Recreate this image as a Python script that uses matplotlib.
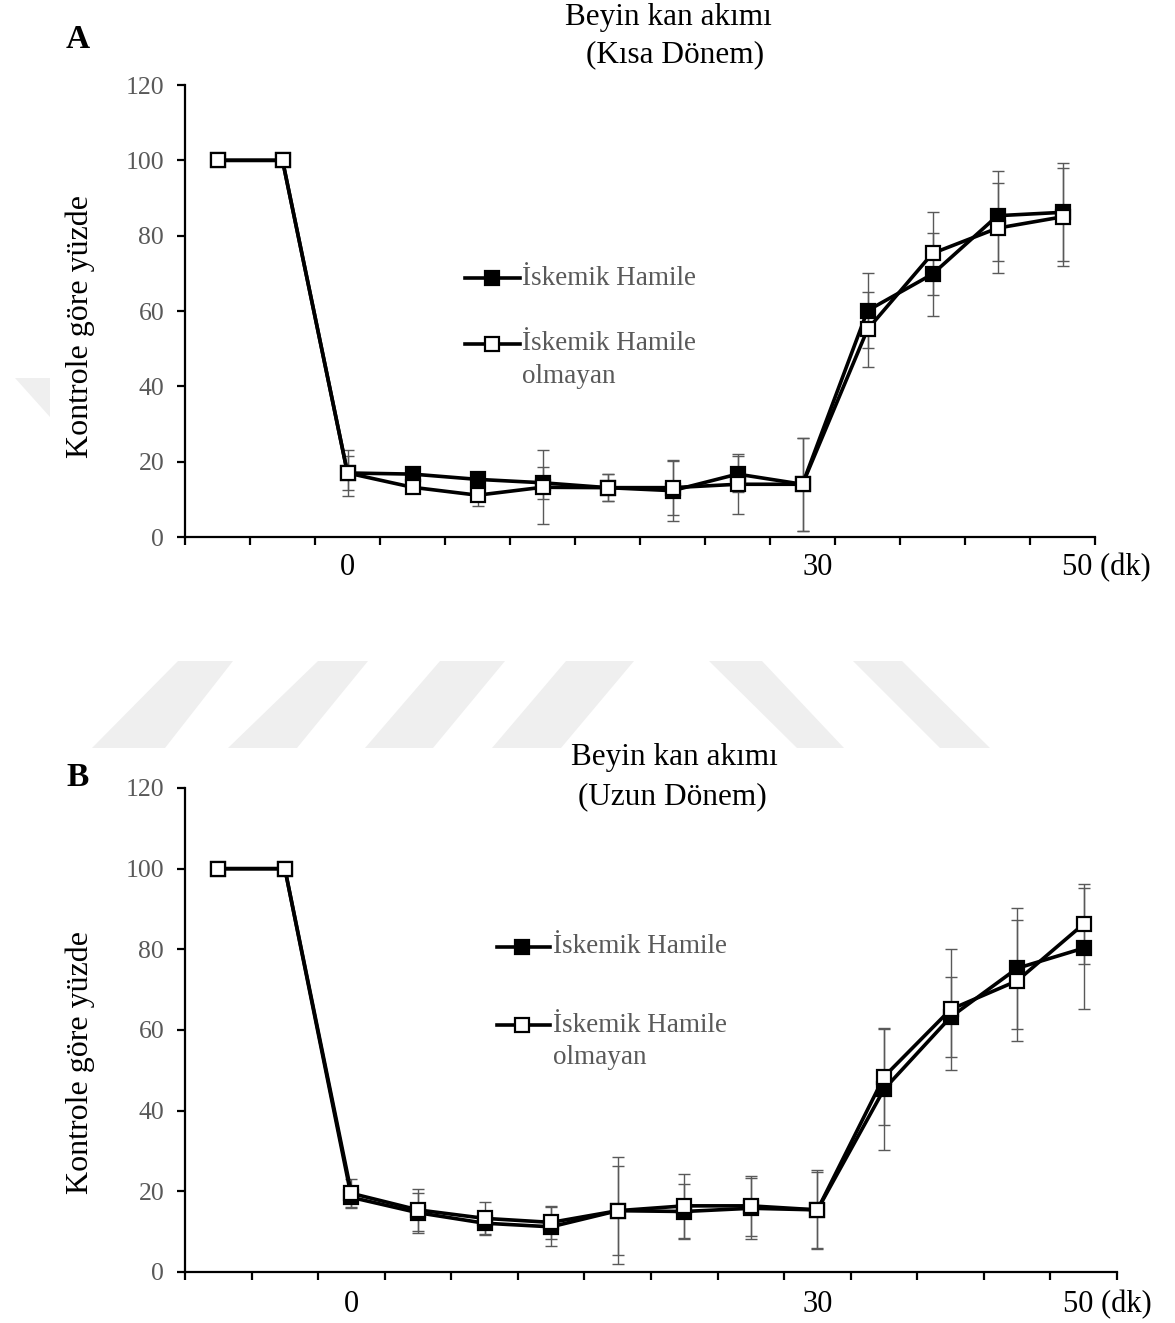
import matplotlib
matplotlib.use("Agg")
import matplotlib.pyplot as plt
from matplotlib.patches import Polygon
import numpy as np

plt.rcParams['font.family'] = ['Liberation Serif', 'DejaVu Serif']

# ---------------- data ----------------
n_points = 14
x_labels = ["0", "30", "50 (dk)"]

# Panel A (Kısa Dönem)
a_hamile = [100, 100, 17, 16.7, 15.3, 14.4, 13.1, 12.3, 16.7, 14.0, 60.1, 69.8, 85.3, 86.2]
a_hamile_err = [0, 0, 6.2, 1.0, 1.0, 4.2, 3.5, 8.0, 4.7, 12.3, 10.0, 11.0, 12.0, 13.0]
a_olmayan = [100, 100, 17, 13.2, 11.1, 13.2, 13.1, 13.1, 14.0, 14.0, 55.1, 75.3, 82.0, 85.0]
a_olmayan_err = [0, 0, 4.6, 1.0, 2.8, 9.8, 3.5, 7.3, 8.0, 12.3, 10.0, 11.0, 12.0, 13.0]

# Panel B (Uzun Dönem)
b_hamile = [100, 100, 18.5, 14.7, 12.1, 11.2, 15.2, 15.0, 15.8, 15.4, 45.3, 63.2, 75.3, 80.3]
b_hamile_err = [0, 0, 2.6, 5.0, 3.0, 4.8, 11.0, 6.7, 7.5, 9.8, 15.0, 10.0, 15.0, 15.0]
b_olmayan = [100, 100, 19.5, 15.4, 13.3, 12.3, 15.2, 16.4, 16.4, 15.4, 48.4, 65.1, 72.2, 86.3]
b_olmayan_err = [0, 0, 3.5, 5.2, 4.0, 4.0, 13.2, 8.0, 7.5, 9.4, 12.0, 15.0, 15.0, 10.0]

legend_labels = ["İskemik Hamile", "İskemik Hamile", "olmayan"]

W, H = 1175, 1323
fig = plt.figure(figsize=(W / 100, H / 100), dpi=100)

def fx(px):
    return px / W

def fy(py):
    return 1 - py / H

# watermark shapes (light grey)
wm = "#efefef"
stripes = [
    [(178, 661), (233, 661), (165, 748), (92, 748)],
    [(318, 661), (368, 661), (297, 748), (228, 748)],
    [(440, 661), (505, 661), (433, 748), (365, 748)],
    [(566, 661), (634, 661), (561, 748), (492, 748)],
    [(709, 661), (762, 661), (844, 748), (797, 748)],
    [(853, 661), (902, 661), (990, 748), (940, 748)],
    [(15, 378), (50, 378), (50, 417)],
]
for poly in stripes:
    fig.patches.append(Polygon([(fx(px), fy(py)) for px, py in poly], closed=True,
                               transform=fig.transFigure, facecolor=wm, edgecolor='none', zorder=0))

grey = "#595959"
fs_tick = 18.5
fs_x = 22


def panel(box, s1, e1, s2, e2, lab_x, lab_y, leg):
    left, top, right, bottom = box
    ax = fig.add_axes([fx(left), fy(bottom), fx(right - left), (bottom - top) / H])
    ax.set_facecolor('none')
    x = np.arange(n_points) + 0.5
    ax.errorbar(x, s1, yerr=e1, fmt='none', ecolor=grey, elinewidth=1.0, capsize=4.5,
                capthick=1.0, zorder=2)
    ax.errorbar(x, s2, yerr=e2, fmt='none', ecolor=grey, elinewidth=1.0, capsize=4.5,
                capthick=1.0, zorder=2)
    ax.plot(x, s1, color='black', lw=2.6, marker='s', ms=10, mfc='black', mec='black',
            mew=1.6, zorder=3)
    ax.plot(x, s2, color='black', lw=2.6, marker='s', ms=10, mfc='white', mec='black',
            mew=1.6, zorder=4)
    ax.set_xlim(0, n_points)
    ax.set_ylim(0, 120)
    ax.set_yticks(np.arange(0, 121, 20))
    ax.set_xticks(np.arange(0, n_points + 1))
    ax.set_xticklabels([])
    for s in ['top', 'right']:
        ax.spines[s].set_visible(False)
    for s in ['left', 'bottom']:
        ax.spines[s].set_linewidth(1.6)
    ax.tick_params(axis='both', direction='out', length=6, width=1.6, color='black')
    ax.tick_params(axis='y', labelsize=fs_tick, labelcolor=grey, pad=9)
    trans = ax.get_xaxis_transform()
    for xv, t in zip(lab_x, x_labels):
        ax.text(xv, lab_y, t, transform=trans, ha='center', va='center', fontsize=fs_x,
                color='black')
    # legend
    lx0, lx1, lxm, ly1, ly2, ly3, tx = leg
    ax.plot([lx0, lxm, lx1], [ly1] * 3, transform=ax.transAxes, clip_on=False, color='black',
            lw=2.6, marker='s', ms=10, mfc='black', mec='black', mew=1.6, markevery=[1])
    ax.plot([lx0, lxm, lx1], [ly2] * 3, transform=ax.transAxes, clip_on=False, color='black',
            lw=2.6, marker='s', ms=10, mfc='white', mec='black', mew=1.6, markevery=[1])
    for yy, t in zip([ly1, ly2, ly3], legend_labels):
        ax.text(tx, yy, t, transform=ax.transAxes, ha='left', va='center', fontsize=19.5,
                color=grey)
    return ax

# Panel A
panel((185, 85, 1095, 537), a_hamile, a_hamile_err, a_olmayan, a_olmayan_err,
      [2.5, 9.74, 14.18], -0.068,
      (0.3077, 0.368, 0.337, 0.573, 0.427, 0.356, 0.3705))
# Panel B
panel((185, 788, 1117, 1272), b_hamile, b_hamile_err, b_olmayan, b_olmayan_err,
      [2.5, 9.5, 13.85], -0.068,
      (0.3348, 0.3916, 0.362, 0.6715, 0.510, 0.444, 0.395))

# titles
fs_title = 22.5
fig.text(fx(668), fy(18), "Beyin kan akımı", ha='center', va='center', fontsize=fs_title)
fig.text(fx(675), fy(55), "(Kısa Dönem)", ha='center', va='center', fontsize=fs_title)
fig.text(fx(674), fy(758), "Beyin kan akımı", ha='center', va='center', fontsize=fs_title)
fig.text(fx(672), fy(797), "(Uzun Dönem)", ha='center', va='center', fontsize=fs_title)

# panel letters
fig.text(fx(78), fy(40), "A", ha='center', va='center', fontsize=24, fontweight='bold')
fig.text(fx(78), fy(778), "B", ha='center', va='center', fontsize=24, fontweight='bold')

# y labels
fig.text(fx(80), fy(327), "Kontrole göre yüzde", rotation=90, ha='center', va='center',
         fontsize=23)
fig.text(fx(80), fy(1062), "Kontrole göre yüzde", rotation=90, ha='center', va='center',
         fontsize=23)

fig.savefig("out.png", dpi=100)
